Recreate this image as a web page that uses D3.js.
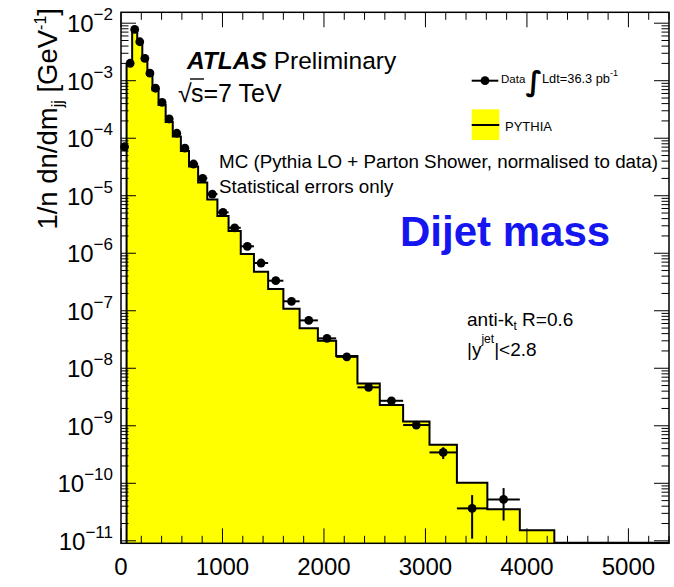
<!DOCTYPE html>
<html>
<head>
<meta charset="utf-8">
<script src="https://cdn.jsdelivr.net/npm/d3@7"></script>
<style>
  html, body { margin: 0; padding: 0; background: #fff; }
  svg { display: block; font-family: "Liberation Sans", Arial, Helvetica, sans-serif; }
</style>
</head>
<body>
<svg id="chart" width="674" height="587"></svg>
<script>
// Data bins (GeV): first data bin is the low-mass bin below 70 GeV
const dataEdges = [0, 70, 110, 160, 210, 260, 310, 370, 440, 510, 590, 670, 760, 850, 950, 1060,
  1180, 1310, 1450, 1600, 1760, 1940, 2120, 2330, 2550, 2780, 3040, 3310, 3610, 3930];
// 1/n dn/dm_jj [GeV^-1] measured in each data bin
const dataValues = [7.1e-5, 2.01e-3, 7.8e-3, 4.76e-3, 2.45e-3, 1.35e-3, 7.4e-4, 4.2e-4, 2.16e-4,
  1.22e-4, 6.7e-5, 3.56e-5, 2.01e-5, 1.07e-5, 5.14e-6, 2.77e-6, 1.32e-6, 6.76e-7, 3.33e-7,
  1.46e-7, 6.8e-8, 3.31e-8, 1.58e-8, 4.66e-9, 2.72e-9, 1.03e-9, 3.44e-10, 3.66e-11, 5.25e-11];
// statistical uncertainty of each data point
const dataErrors = [1.0e-6, 1.0e-5, 2.0e-5, 1.5e-5, 8.0e-6, 5.0e-6, 3.0e-6, 2.0e-6, 1.0e-6,
  7.0e-7, 4.0e-7, 2.5e-7, 1.6e-7, 9.0e-8, 5.0e-8, 3.0e-8, 1.6e-8, 1.0e-8, 6.0e-9,
  3.0e-9, 1.6e-9, 1.0e-9, 6.0e-10, 2.5e-10, 2.0e-10, 1.0e-10, 0.8e-10, 2.57e-11, 3.0e-11];

// PYTHIA histogram (normalised to data)
const mcEdges = [55, 70, 110, 160, 210, 260, 310, 370, 440, 510, 590, 670, 760, 850, 950, 1060,
  1180, 1310, 1450, 1600, 1760, 1940, 2120, 2330, 2550, 2780, 3040, 3310, 3610, 3930, 4270];
const mcValues = [1.87e-3, 1.87e-3, 7.6e-3, 4.6e-3, 2.29e-3, 1.26e-3, 6.8e-4, 3.78e-4, 1.91e-4,
  1.07e-4, 5.98e-5, 3.22e-5, 1.70e-5, 8.6e-6, 4.44e-6, 2.43e-6, 9.7e-7, 4.77e-7, 2.38e-7,
  1.08e-7, 4.94e-8, 3.0e-8, 1.63e-8, 5.46e-9, 2.29e-9, 1.19e-9, 4.68e-10, 1.02e-10, 3.52e-11, 1.53e-11];

// Axis ticks
const xTicks = [0, 1000, 2000, 3000, 4000, 5000];
const yExponents = [-2, -3, -4, -5, -6, -7, -8, -9, -10, -11];

const svg = d3.select("#chart");
const pL = 121, pR = 669, pT = 12.3, pB = 543.3;

const x = d3.scaleLinear().domain([0, 5400]).range([pL, pR]);
const y = d3.scaleLog().domain([Math.pow(10, -11.0435), Math.pow(10, -1.8105)]).range([pB, pT]);

// ---- MC histogram (filled yellow, black outline) ----
const mcPts = mcValues.map((v, i) => ({ x0: mcEdges[i], x1: mcEdges[i + 1], v }));
let areaPath = `M${x(mcEdges[0])},${pB}`;
mcPts.forEach(b => { areaPath += `L${x(b.x0)},${y(b.v)}L${x(b.x1)},${y(b.v)}`; });
areaPath += `L${x(mcEdges[mcEdges.length - 1])},${pB}Z`;
svg.append("path").attr("d", areaPath).attr("fill", "#ffff00").attr("stroke", "none");

let linePath = `M${x(mcEdges[0])},${pB}`;
mcPts.forEach(b => { linePath += `L${x(b.x0)},${y(b.v)}L${x(b.x1)},${y(b.v)}`; });
linePath += `L${x(mcEdges[mcEdges.length - 1])},${pB - 0.5}L${x(5400)},${pB - 0.5}`;
svg.append("path").attr("d", linePath).attr("fill", "none").attr("stroke", "#000")
  .attr("stroke-width", 2).attr("stroke-linejoin", "miter");

// ---- Axes frame with ROOT-style ticks ----
const g = svg.append("g");
g.append("rect").attr("x", pL).attr("y", pT).attr("width", pR - pL).attr("height", pB - pT)
  .attr("fill", "none").attr("stroke", "#000").attr("stroke-width", 1.5);

const xMinor = d3.range(0, 5401, 200);
xMinor.forEach(v => {
  const major = v % 1000 === 0;
  const len = major ? 15 : 7.5;
  const px = x(v);
  g.append("line").attr("x1", px).attr("x2", px).attr("y1", pB).attr("y2", pB - len)
    .attr("stroke", "#000").attr("stroke-width", 1);
  g.append("line").attr("x1", px).attr("x2", px).attr("y1", pT).attr("y2", pT + len)
    .attr("stroke", "#000").attr("stroke-width", 1);
});

const yTickVals = [];
for (let e = -12; e <= -1; e++) {
  for (let m = 1; m <= 9; m++) {
    const v = m * Math.pow(10, e);
    if (v >= y.domain()[0] && v <= y.domain()[1]) yTickVals.push({ v, major: m === 1 });
  }
}
yTickVals.forEach(t => {
  const py = y(t.v);
  const len = t.major ? 15 : 7.5;
  g.append("line").attr("x1", pL).attr("x2", pL + len).attr("y1", py).attr("y2", py)
    .attr("stroke", "#000").attr("stroke-width", 1);
  g.append("line").attr("x1", pR).attr("x2", pR - len).attr("y1", py).attr("y2", py)
    .attr("stroke", "#000").attr("stroke-width", 1);
});

// tick labels
xTicks.forEach(v => {
  svg.append("text").attr("x", x(v)).attr("y", 575).attr("text-anchor", "middle")
    .attr("font-size", 24).attr("fill", "#000").text(v);
});
yExponents.forEach(e => {
  const py = y(Math.pow(10, e));
  const t = svg.append("text").attr("x", 113).attr("y", py + 9).attr("text-anchor", "end")
    .attr("font-size", 24).attr("fill", "#000");
  t.append("tspan").text("10");
  t.append("tspan").attr("dy", -12).attr("font-size", 17).text("\u2212" + Math.abs(e));
});

// y axis title
const yt = svg.append("text").attr("transform", "translate(57,8) rotate(-90)")
  .attr("text-anchor", "end").attr("font-size", 27.5).attr("fill", "#000");
yt.append("tspan").text("1/n dn/dm");
yt.append("tspan").attr("dy", 6).attr("font-size", 16).text("jj");
yt.append("tspan").attr("dy", -6).text(" [GeV");
yt.append("tspan").attr("dy", -11).attr("font-size", 16).text("-1");
yt.append("tspan").attr("dy", 11).text("]");

// ---- Data points with error bars ----
const pts = dataValues.map((v, i) => ({
  lo: dataEdges[i], hi: dataEdges[i + 1], c: (dataEdges[i] + dataEdges[i + 1]) / 2, v, err: dataErrors[i]
}));
const dg = svg.append("g");
pts.forEach(p => {
  dg.append("line").attr("x1", x(p.lo)).attr("x2", x(p.hi)).attr("y1", y(p.v)).attr("y2", y(p.v))
    .attr("stroke", "#000").attr("stroke-width", 2);
  dg.append("line").attr("x1", x(p.c)).attr("x2", x(p.c))
    .attr("y1", y(p.v + p.err)).attr("y2", y(Math.max(p.v - p.err, 1e-13)))
    .attr("stroke", "#000").attr("stroke-width", 2);
  dg.append("circle").attr("cx", x(p.c)).attr("cy", y(p.v)).attr("r", 4.4).attr("fill", "#000");
});

// ---- Text annotations ----
const atlas = svg.append("text").attr("x", 187).attr("y", 69).attr("font-size", 24.5).attr("fill", "#000");
atlas.append("tspan").attr("font-weight", "bold").attr("font-style", "italic").text("ATLAS");
atlas.append("tspan").text(" Preliminary");

svg.append("text").attr("x", 178).attr("y", 102).attr("font-size", 25).attr("fill", "#000").text("√");
svg.append("text").attr("x", 191).attr("y", 102).attr("font-size", 25).attr("fill", "#000").text("s=7 TeV");
svg.append("line").attr("x1", 190).attr("x2", 204).attr("y1", 79).attr("y2", 79)
  .attr("stroke", "#000").attr("stroke-width", 1.4);

svg.append("text").attr("x", 219).attr("y", 168).attr("font-size", 18.8).attr("fill", "#000")
  .text("MC (Pythia LO + Parton Shower, normalised to data)");
svg.append("text").attr("x", 219).attr("y", 192.5).attr("font-size", 18.8).attr("fill", "#000")
  .text("Statistical errors only");

svg.append("text").attr("x", 400).attr("y", 246).attr("font-size", 42).attr("font-weight", "bold")
  .attr("fill", "#1515f0").text("Dijet mass");

const ak = svg.append("text").attr("x", 467).attr("y", 326).attr("font-size", 19).attr("fill", "#000");
ak.append("tspan").text("anti-k");
ak.append("tspan").attr("dy", 4).attr("font-size", 12).text("t");
ak.append("tspan").attr("dy", -4).text(" R=0.6");
const yj = svg.append("text").attr("x", 467).attr("y", 356).attr("font-size", 19).attr("fill", "#000");
yj.append("tspan").text("|y");
yj.append("tspan").attr("dy", -13).attr("font-size", 12).text("jet");
yj.append("tspan").attr("dy", 13).text("|<2.8");

// ---- Legend ----
const lg = svg.append("g");
lg.append("line").attr("x1", 471.7).attr("x2", 498.3).attr("y1", 80.7).attr("y2", 80.7)
  .attr("stroke", "#000").attr("stroke-width", 2);
lg.append("circle").attr("cx", 485).attr("cy", 80.7).attr("r", 4.4).attr("fill", "#000");
lg.append("text").attr("x", 501).attr("y", 83).attr("font-size", 11.5).attr("fill", "#000").text("Data");
lg.append("text").attr("x", 534).attr("y", 91).attr("text-anchor", "middle").attr("font-size", 28)
  .attr("font-family", "DejaVu Sans").attr("font-weight", "bold").attr("fill", "#000").text("∫");
const lum = lg.append("text").attr("x", 542).attr("y", 83).attr("font-size", 12.8).attr("fill", "#000");
lum.append("tspan").text("Ldt=36.3 pb");
lum.append("tspan").attr("dy", -7).attr("font-size", 9).text("-1");

lg.append("rect").attr("x", 471.7).attr("y", 109.3).attr("width", 27.6).attr("height", 30.7).attr("fill", "#ffff00");
lg.append("line").attr("x1", 471.7).attr("x2", 499.3).attr("y1", 125).attr("y2", 125)
  .attr("stroke", "#000").attr("stroke-width", 2);
lg.append("text").attr("x", 505).attr("y", 131).attr("font-size", 13).attr("fill", "#000").text("PYTHIA");
</script>
</body>
</html>
